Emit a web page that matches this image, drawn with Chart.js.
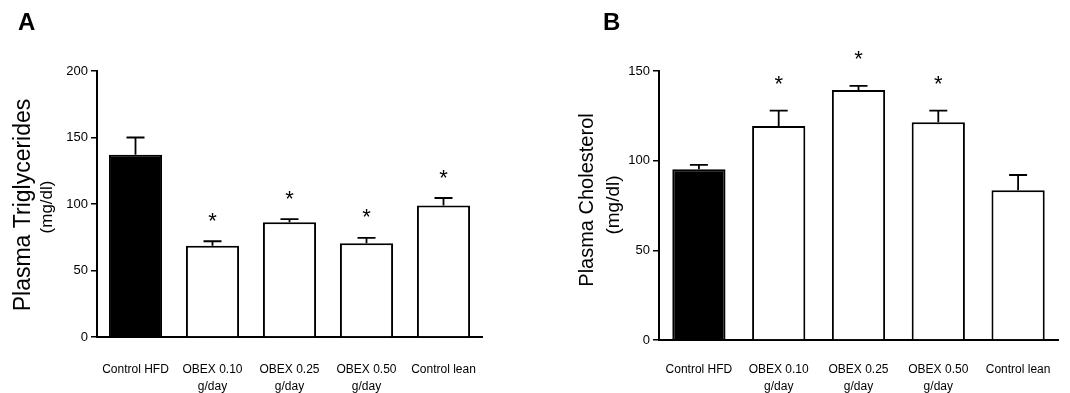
<!DOCTYPE html>
<html>
<head>
<meta charset="utf-8">
<script src="https://cdn.jsdelivr.net/npm/chart.js@4"></script>
<style>
  body { margin: 0; background: #fff; }
  .panel { position: absolute; top: 0; width: 535px; height: 393px; }
  #wrapA { left: 0; }
  #wrapB { left: 535px; }
</style>
</head>
<body>
<div class="panel" id="wrapA"><canvas id="chartA" width="535" height="393"></canvas></div>
<div class="panel" id="wrapB"><canvas id="chartB" width="535" height="393"></canvas></div>
<script>
// Data
const categories = [['Control HFD'], ['OBEX 0.10', 'g/day'], ['OBEX 0.25', 'g/day'], ['OBEX 0.50', 'g/day'], ['Control lean']];

const trigMean = [137, 68.7, 86.3, 70.5, 98.9];
const trigSem = [13, 3.3, 2.3, 4, 5.6];
const trigSig = [false, true, true, true, true];
const trigTicks = [0, 50, 100, 150, 200];

const cholMean = [95.2, 119.3, 139.4, 121.4, 83.5];
const cholSem = [2.4, 8.6, 2.3, 6.5, 8.5];
const cholSig = [false, true, true, true, false];
const cholTicks = [0, 50, 100, 150];

const FONT = '"Liberation Sans", Arial, Helvetica, sans-serif';
Chart.defaults.font.family = FONT;
Chart.defaults.color = '#000';

// error bars, stars, axis title and panel letter
function makeAnnot(means, sem, sig, starGap, info) {
    return {
        id: 'annot',
        afterDatasetsDraw(chart) {
            const { ctx, scales: { x, y } } = chart;
            ctx.save();
            ctx.strokeStyle = '#000';
            ctx.fillStyle = '#000';
            ctx.lineWidth = 1.8;
            means.forEach((m, i) => {
                const px = x.getPixelForValue(i);
                const yb = y.getPixelForValue(m);
                const yt = y.getPixelForValue(m + sem[i]);
                ctx.beginPath();
                ctx.moveTo(px, yb);
                ctx.lineTo(px, yt);
                ctx.moveTo(px - 9, yt);
                ctx.lineTo(px + 9, yt);
                ctx.stroke();
                if (sig[i]) {
                    ctx.font = '22px ' + FONT;
                    ctx.textAlign = 'center';
                    ctx.textBaseline = 'alphabetic';
                    ctx.fillText('*', px, yt - starGap + 12.5);
                }
            });
            ctx.restore();
        },
        afterDraw(chart) {
            const ctx = chart.ctx;
            ctx.save();
            ctx.fillStyle = '#000';
            ctx.font = 'bold 24px ' + FONT;
            ctx.textAlign = 'left';
            ctx.textBaseline = 'alphabetic';
            ctx.fillText(info.letter, info.letterX, 30);

            ctx.textAlign = 'center';
            ctx.textBaseline = 'middle';
            info.titles.forEach(t => {
                ctx.save();
                ctx.translate(t.x, t.y);
                ctx.rotate(-Math.PI / 2);
                ctx.font = t.size + 'px ' + FONT;
                ctx.fillText(t.text, 0, 0);
                ctx.restore();
            });
            ctx.restore();
        }
    };
}

function buildChart(canvasId, means, ticks, maxY, barPct, pad, xHeight, labelPad, plugin) {
    const ctx = document.getElementById(canvasId).getContext('2d');
    return new Chart(ctx, {
        type: 'bar',
        data: {
            labels: categories,
            datasets: [{
                data: means,
                backgroundColor: means.map((v, i) => i === 0 ? '#000' : '#fff'),
                borderColor: '#000',
                borderWidth: 2,
                barPercentage: barPct,
                categoryPercentage: 1
            }]
        },
        options: {
            responsive: false,
            animation: false,
            layout: { padding: pad },
            plugins: { legend: { display: false }, tooltip: { enabled: false } },
            scales: {
                x: {
                    grid: { display: false, drawTicks: false },
                    border: { display: true, color: '#000', width: 2 },
                    ticks: { font: { size: 12, lineHeight: 1.45 }, padding: labelPad, maxRotation: 0, autoSkip: false },
                    afterFit: s => {
                        s.height = xHeight;
                        s.paddingLeft = 0;
                        s.paddingRight = 0;
                    }
                },
                y: {
                    min: 0,
                    max: maxY,
                    afterBuildTicks: s => { s.ticks = ticks.map(v => ({ value: v })); },
                    grid: { display: true, drawOnChartArea: false, drawTicks: true, tickLength: 6, color: '#000', lineWidth: 1.5 },
                    border: { display: true, color: '#000', width: 2 },
                    ticks: { font: { size: 13 }, padding: 3 },
                    afterFit: s => { s.width = pad.yWidth; }
                }
            }
        },
        plugins: [plugin]
    });
}

buildChart('chartA', trigMean, trigTicks, 200, 0.69,
    { top: 71, right: 53, left: 0, bottom: 0, yWidth: 97 }, 56, 24,
    makeAnnot(trigMean, trigSem, trigSig, 26, {
        letter: 'A', letterX: 18,
        titles: [
            { text: 'Plasma Triglycerides', x: 24, y: 205, size: 23 },
            { text: '(mg/dl)', x: 47, y: 207, size: 17 }
        ]
    }));

buildChart('chartB', cholMean, cholTicks, 150, 0.667,
    { top: 71, right: 12, left: 0, bottom: 0, yWidth: 124 }, 53, 21,
    makeAnnot(cholMean, cholSem, cholSig, 32, {
        letter: 'B', letterX: 68,
        titles: [
            { text: 'Plasma Cholesterol', x: 52, y: 200, size: 20 },
            { text: '(mg/dl)', x: 79, y: 205, size: 19 }
        ]
    }));
</script>
</body>
</html>
